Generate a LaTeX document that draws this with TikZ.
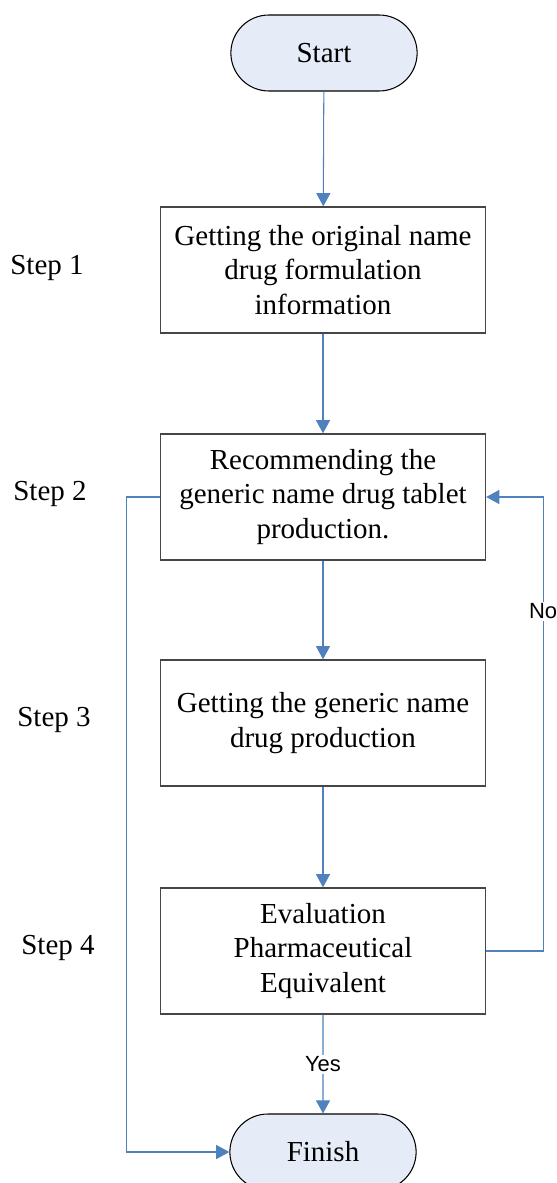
\documentclass[tikz,border=0pt]{standalone}
\usepackage{fontspec}
\setmainfont{Liberation Serif}
\newfontfamily\answerfont{Liberation Sans}
\usetikzlibrary{shapes.misc,arrows.meta}
\definecolor{flowblue}{RGB}{79,129,189}
\definecolor{termfill}{RGB}{230,236,247}
\definecolor{boxgray}{RGB}{70,70,70}

\begin{document}
\begin{tikzpicture}[x=0.02cm,y=-0.02cm,
    every node/.style={font=\fontsize{16.5}{19.6}\selectfont},
    term/.style={rounded rectangle, draw=black, line width=0.6pt, fill=termfill, minimum width=3.96cm, minimum height=1.52cm},
    stepbox/.style={rectangle, draw=boxgray, line width=0.8pt, align=center, minimum width=6.5cm, minimum height=2.52cm},
    link/.style={draw=flowblue, line width=0.6pt, -{Triangle[length=7.5pt,width=8pt]}},
    answer/.style={fill=white, inner sep=1pt, font=\answerfont\fontsize{12.5}{14}\selectfont}]
\useasboundingbox (0,0) rectangle (556,1183);
% Terminals
\node[term] (start) at (324,53) {Start};
\node[term] (finish) at (323,1152) {Finish};
% Steps
\node[stepbox] (info) at (323,270) {Getting the original name\\drug formulation\\information};
\node[stepbox] (recommend) at (323,497) {Recommending the\\generic name drug tablet\\production.};
\node[stepbox] (production) at (323,723) {Getting the generic name\\drug production};
\node[stepbox] (evaluation) at (323,951) {Evaluation\\Pharmaceutical\\Equivalent};
\foreach \n/\x/\y in {1/47/268, 2/50/494, 3/54/720, 4/58/948} {
    \node (step\n) at (\x,\y) {Step \n};
}
% Flow
\draw[link] (start) -- (info);
\draw[link] (info) -- (recommend);
\draw[link] (recommend) -- (production);
\draw[link] (production) -- (evaluation);
\draw[link] (evaluation) -- node[answer] (yes) {Yes} (finish);
\draw[link] (evaluation.east) -- ++(57,0) |- node[answer, pos=0.374] (no) {No} (recommend.east);
\draw[link] (recommend.west) -- ++(-33,0) |- (finish.west);
\end{tikzpicture}
\end{document}
